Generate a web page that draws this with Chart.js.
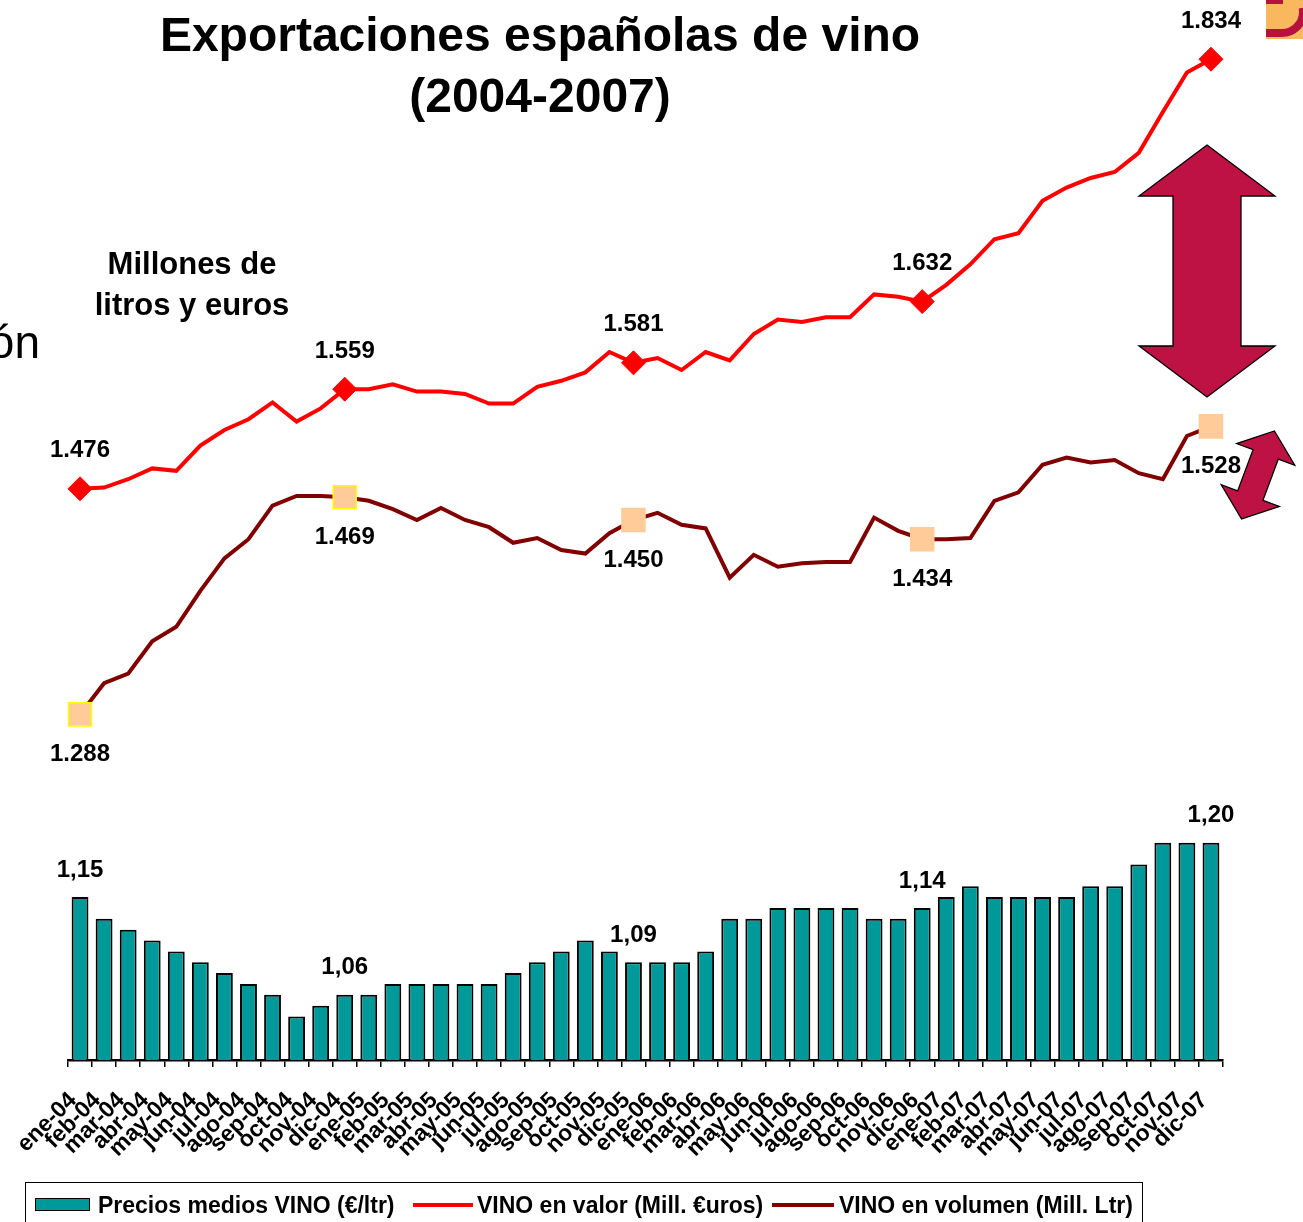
<!DOCTYPE html>
<html>
<head>
<meta charset="utf-8">
<script src="https://cdn.jsdelivr.net/npm/chart.js@4.4.1/dist/chart.umd.min.js"></script>
<style>
body { margin: 0; background: #fff; }
#wrap { position: relative; width: 1303px; height: 1222px; overflow: hidden; font-family: "Liberation Sans", Arial, sans-serif; }
canvas { position: absolute; left: 0; top: 0; }
.txt { position: absolute; color: #000; white-space: nowrap; }
#legend { position: absolute; left: 25px; top: 1182px; width: 1118px; height: 70px; border: 1.5px solid #000; box-sizing: border-box; }
#legend .sw { position: absolute; }
#legend .lb { position: absolute; top: 11px; font-weight: bold; font-size: 23px; line-height: 23px; white-space: nowrap; }
</style>
</head>
<body>
<div id="wrap">
  <canvas id="chart" width="1303" height="1222"></canvas>
  <div class="txt" style="left:140px;top:4px;width:800px;text-align:center;font-weight:bold;font-size:48px;line-height:61px;">Exportaciones españolas de vino<br>(2004-2007)</div>
  <div class="txt" style="left:42px;top:243px;width:300px;text-align:center;font-weight:bold;font-size:31px;line-height:41px;">Millones de<br>litros y euros</div>
  <div class="txt" style="left:-60px;top:319px;width:100px;text-align:right;font-size:46px;line-height:46px;">ón</div>
  <div id="legend"></div>
</div>
<script>
// Meses (ene-04 ... dic-07)
const meses = [
    'ene-04', 'feb-04', 'mar-04', 'abr-04', 'may-04', 'jun-04', 'jul-04', 'ago-04', 'sep-04', 'oct-04', 'nov-04', 'dic-04',
    'ene-05', 'feb-05', 'mar-05', 'abr-05', 'may-05', 'jun-05', 'jul-05', 'ago-05', 'sep-05', 'oct-05', 'nov-05', 'dic-05',
    'ene-06', 'feb-06', 'mar-06', 'abr-06', 'may-06', 'jun-06', 'jul-06', 'ago-06', 'sep-06', 'oct-06', 'nov-06', 'dic-06',
    'ene-07', 'feb-07', 'mar-07', 'abr-07', 'may-07', 'jun-07', 'jul-07', 'ago-07', 'sep-07', 'oct-07', 'nov-07', 'dic-07'
];

// Precios medios (euros / litro)
const precios = [
    1.15, 1.13, 1.12, 1.11, 1.10, 1.09, 1.08, 1.07, 1.06, 1.04, 1.05, 1.06,
    1.06, 1.07, 1.07, 1.07, 1.07, 1.07, 1.08, 1.09, 1.10, 1.11, 1.10, 1.09,
    1.09, 1.09, 1.10, 1.13, 1.13, 1.14, 1.14, 1.14, 1.14, 1.13, 1.13, 1.14,
    1.15, 1.16, 1.15, 1.15, 1.15, 1.15, 1.16, 1.16, 1.18, 1.20, 1.20, 1.20
];

// Valor (millones de euros)
const valor = [
    1476, 1477, 1484, 1493, 1491, 1512, 1525, 1534, 1548, 1532, 1543, 1559,
    1559, 1563, 1557, 1557, 1555, 1547, 1547, 1561, 1566, 1573, 1590, 1581,
    1585, 1575, 1590, 1583, 1605, 1617, 1615, 1619, 1619, 1638, 1636, 1632,
    1646, 1663, 1684, 1689, 1716, 1727, 1735, 1740, 1756, 1790, 1823, 1834
];

// Volumen (millones de litros)
const volumen = [
    1288, 1314, 1322, 1349, 1361, 1391, 1418, 1434, 1462, 1470, 1470, 1469,
    1466, 1459, 1450, 1460, 1450, 1444, 1431, 1435, 1425, 1422, 1439, 1450,
    1456, 1446, 1443, 1402, 1421, 1411, 1414, 1415, 1415, 1452, 1441, 1434,
    1434, 1435, 1466, 1473, 1496, 1502, 1498, 1500, 1489, 1484, 1520, 1528
];

const nombres = ['Precios medios VINO (€/ltr)', 'VINO en valor (Mill. €uros)', 'VINO en volumen (Mill. Ltr)'];

// puntos con marcador y etiqueta
const marcados = [0, 11, 23, 35, 47];

const FUENTE = '"Liberation Sans", Arial, sans-serif';

function radios(r) {
    return meses.map((m, i) => marcados.includes(i) ? r : 0);
}

function miles(v) {
    return String(v).replace(/(\d)(\d{3})$/, '$1.$2');
}

function coma(v) {
    return v.toFixed(2).replace('.', ',');
}

function dobleFlecha(ctx, cx, cy, len, dx, dy, headW, headL, shaftW) {
    const px = -dy, py = dx;
    const a = len / 2, b = len / 2 - headL;
    const pts = [
        [a, 0], [b, headW / 2], [b, shaftW / 2], [-b, shaftW / 2], [-b, headW / 2],
        [-a, 0], [-b, -headW / 2], [-b, -shaftW / 2], [b, -shaftW / 2], [b, -headW / 2]
    ];
    ctx.beginPath();
    pts.forEach((p, i) => {
        const x = cx + p[0] * dx + p[1] * px;
        const y = cy + p[0] * dy + p[1] * py;
        if (i === 0) ctx.moveTo(x, y); else ctx.lineTo(x, y);
    });
    ctx.closePath();
    ctx.fill();
    ctx.stroke();
}

const flechas = {
    id: 'flechas',
    beforeDatasetsDraw(chart) {
        const ctx = chart.ctx;
        ctx.save();
        ctx.fillStyle = '#be1244';
        ctx.strokeStyle = '#000';
        ctx.lineWidth = 1.3;
        ctx.lineJoin = 'miter';
        dobleFlecha(ctx, 1207, 271, 252, 0, -1, 136, 51, 68);
        dobleFlecha(ctx, 1258, 475, 94, 0.35, -0.937, 62, 25, 27);
        ctx.restore();
    }
};

const etiquetas = {
    id: 'etiquetas',
    afterDatasetsDraw(chart) {
        const ctx = chart.ctx;
        ctx.save();
        ctx.font = 'bold 24px ' + FUENTE;
        ctx.fillStyle = '#000';
        ctx.textAlign = 'center';
        ctx.textBaseline = 'middle';
        chart.data.datasets.forEach((ds, di) => {
            const meta = chart.getDatasetMeta(di);
            marcados.forEach(i => {
                const el = meta.data[i];
                const txt = ds.type === 'bar' ? coma(ds.data[i]) : miles(ds.data[i]);
                ctx.fillText(txt, el.x, el.y + ds.etiquetaDy);
            });
        });
        ctx.restore();
    }
};

// trozo del logo, arriba a la derecha
const logo = {
    id: 'logo',
    afterDraw(chart) {
        const ctx = chart.ctx;
        ctx.save();
        ctx.fillStyle = '#f9b75e';
        ctx.fillRect(1266, 0, 37, 39);
        ctx.strokeStyle = '#b5123f';
        ctx.lineWidth = 8;
        ctx.beginPath();
        ctx.moveTo(1266, 33);
        ctx.lineTo(1282, 33);
        ctx.arc(1282, 12, 21, Math.PI / 2, -0.2, true);
        ctx.stroke();
        ctx.fillStyle = '#b5123f';
        ctx.fillRect(1266, 0, 17, 4);
        ctx.restore();
    }
};

new Chart(document.getElementById('chart'), {
    data: {
        labels: meses,
        datasets: [
            {
                type: 'bar',
                label: nombres[0],
                data: precios,
                yAxisID: 'yP',
                backgroundColor: '#009999',
                borderColor: '#000',
                borderWidth: 2,
                barPercentage: 0.7,
                categoryPercentage: 1,
                order: 3,
                etiquetaDy: -27
            },
            {
                type: 'line',
                label: nombres[1],
                data: valor,
                yAxisID: 'yV',
                borderColor: '#ff0000',
                borderWidth: 4,
                tension: 0,
                pointStyle: 'rectRot',
                pointRadius: radios(12),
                pointBackgroundColor: '#ff0000',
                pointBorderColor: '#ff0000',
                pointBorderWidth: 1,
                clip: false,
                order: 1,
                etiquetaDy: -38
            },
            {
                type: 'line',
                label: nombres[2],
                data: volumen,
                yAxisID: 'yV',
                borderColor: '#800000',
                borderWidth: 4,
                tension: 0,
                pointStyle: 'rect',
                pointRadius: radios(16.3),
                pointBackgroundColor: '#ffcc99',
                pointBorderColor: meses.map((m, i) => (i === 0 || i === 11) ? '#ffff00' : '#ffcc99'),
                pointBorderWidth: 1.5,
                clip: false,
                order: 2,
                etiquetaDy: 40
            }
        ]
    },
    options: {
        responsive: false,
        animation: false,
        layout: { padding: { left: 68, right: 80, top: 40, bottom: 52 } },
        plugins: {
            legend: { display: false },
            tooltip: { enabled: false }
        },
        scales: {
            x: {
                offset: true,
                grid: { offset: true, drawOnChartArea: false, drawTicks: true, tickLength: 7, color: '#000', lineWidth: 1.5 },
                border: { display: true, color: '#000', width: 2.5 },
                ticks: {
                    autoSkip: false,
                    minRotation: 45,
                    maxRotation: 45,
                    padding: 20,
                    labelOffset: -7,
                    color: '#000',
                    font: { family: FUENTE, size: 23, weight: 'bold' }
                },
                afterFit(scale) { scale.height = 110; }
            },
            yV: { display: false, min: 1000, max: 1850 },
            yP: { display: false, min: 1, max: 1.9392 }
        }
    },
    plugins: [flechas, etiquetas, logo]
});

// Leyenda
const leyenda = document.getElementById('legend');
const muestras = [
    { left: 9, top: 15, w: 55, h: 13, css: 'background:#009999;border:1.5px solid #000;box-sizing:border-box;', txt: 72 },
    { left: 387, top: 20, w: 60, h: 4, css: 'background:#ff0000;', txt: 451 },
    { left: 746, top: 20, w: 62, h: 4, css: 'background:#800000;', txt: 813 }
];
muestras.forEach((m, i) => {
    leyenda.insertAdjacentHTML('beforeend',
        '<div class="sw" style="left:' + m.left + 'px;top:' + m.top + 'px;width:' + m.w + 'px;height:' + m.h + 'px;' + m.css + '"></div>' +
        '<div class="lb" style="left:' + m.txt + 'px;">' + nombres[i] + '</div>');
});
</script>
</body>
</html>
